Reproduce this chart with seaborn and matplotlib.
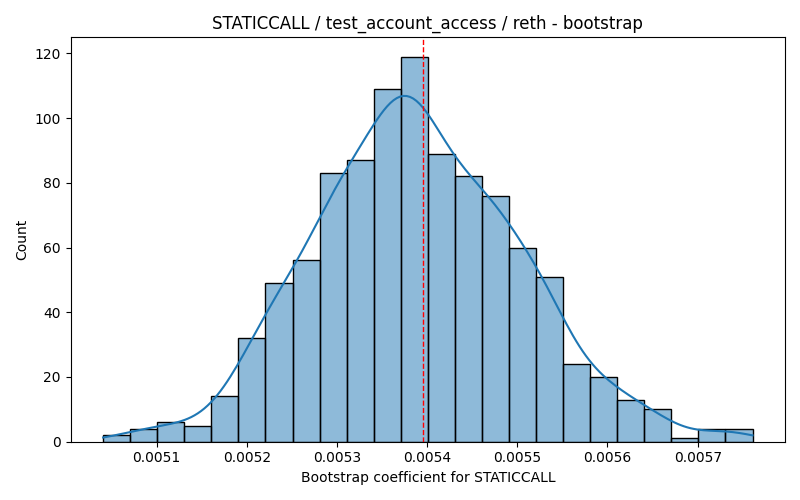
import matplotlib
matplotlib.use("Agg")
import matplotlib.pyplot as plt
import numpy as np
import pandas as pd
import seaborn as sns

# Histogram: 24 bins of equal width
bin_start = 0.0050408
bin_width = 0.00003
counts = [2, 4, 6, 5, 14, 32, 49, 56, 83, 87, 109, 119,
          89, 82, 76, 60, 51, 24, 20, 13, 10, 1, 4, 4]
point_estimate = 0.005396

edges = bin_start + bin_width * np.arange(len(counts) + 1)
centers = (edges[:-1] + edges[1:]) / 2
# one row per bootstrap draw, placed at its bin centre
df = pd.DataFrame({"coef": np.repeat(centers, counts)})

# stretch the KDE out to the outer bin edges, like the raw-data curve
bw = len(df) ** (-1 / 5) * df["coef"].std()
cut = (bin_width / 2) / bw

fig, ax = plt.subplots(figsize=(8, 5))
sns.histplot(data=df, x="coef", bins=len(counts),
             binrange=(edges[0], edges[-1]), kde=True,
             kde_kws={"cut": cut}, ax=ax)
ax.axvline(point_estimate, color="red", linestyle="--", linewidth=1)

ax.set_title("STATICCALL / test_account_access / reth - bootstrap")
ax.set_xlabel("Bootstrap coefficient for STATICCALL")
ax.set_ylabel("Count")

fig.tight_layout()
plt.savefig("out.png", dpi=100)
